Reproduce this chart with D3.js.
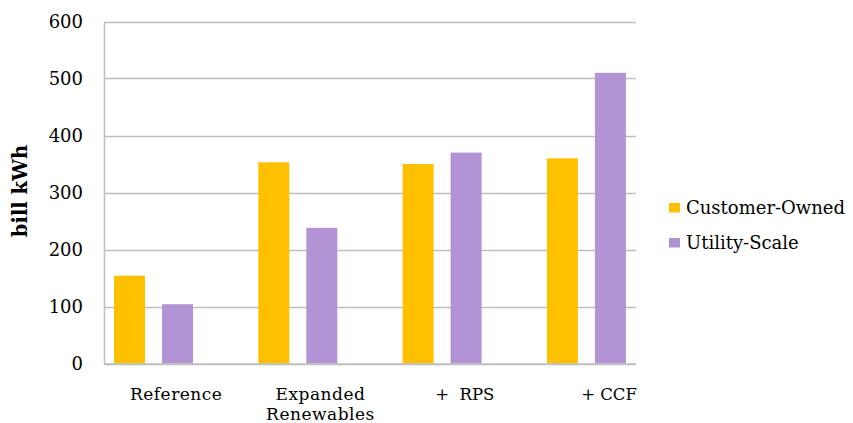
<!DOCTYPE html>
<html>
<head>
<meta charset="utf-8">
<script src="https://cdn.jsdelivr.net/npm/d3@7"></script>
<style>
  html, body { margin: 0; padding: 0; background: #fff; }
  svg { display: block; }
  text { font-family: "DejaVu Serif", serif; fill: #000; }
</style>
</head>
<body>
<svg id="chart" width="853" height="423"></svg>
<script>
// Renewable generation by scenario, billion kWh
const categories = ["Reference", "Expanded Renewables", "+  RPS", "+ CCF"];
const seriesNames = ["Customer-Owned", "Utility-Scale"];
const customerOwned = [154, 353, 350, 360];
const utilityScale = [104, 238, 370, 510];
const yTicks = [0, 100, 200, 300, 400, 500, 600];
const colors = ["#FFC000", "#B294D6"];

const svg = d3.select("#chart");
const plot = { left: 104, right: 636, top: 21.5, bottom: 363.5 };

const y = d3.scaleLinear().domain([0, 600]).range([plot.bottom, plot.top]);

// category slots run wider than the plot frame; each holds three bar positions
const step = 144.3;
const x0 = d3.scaleBand().domain(categories).range([plot.left, plot.left + 4 * step]);
const x1 = d3.scaleBand().domain([...seriesNames, "_spare"])
  .range([10, 137]).paddingInner(0.354).paddingOuter(0);

// gridlines
svg.append("g")
  .selectAll("line")
  .data(yTicks)
  .join("line")
  .attr("x1", plot.left).attr("x2", plot.right)
  .attr("y1", d => Math.round(y(d)) + 0.5).attr("y2", d => Math.round(y(d)) + 0.5)
  .attr("stroke", "#BEBEBE").attr("stroke-width", 1.3);

// y axis
const yAxis = svg.append("g")
  .attr("transform", `translate(${plot.left},0)`)
  .call(d3.axisLeft(y).tickValues(yTicks).tickSize(0).tickPadding(21));
yAxis.select(".domain").attr("stroke", "#BEBEBE").attr("stroke-width", 1.5);
yAxis.selectAll("text").attr("font-size", 18).attr("font-family", "DejaVu Serif, serif");

// bars
const data = categories.map((c, i) => ({ cat: c, vals: [customerOwned[i], utilityScale[i]] }));
const groups = svg.append("g").selectAll("g")
  .data(data).join("g")
  .attr("transform", d => `translate(${x0(d.cat)},0)`);
groups.selectAll("rect")
  .data(d => d.vals.map((v, j) => ({ series: seriesNames[j], v, j })))
  .join("rect")
  .attr("x", d => x1(d.series))
  .attr("width", x1.bandwidth())
  .attr("y", d => y(d.v))
  .attr("height", d => y(0) - y(d.v))
  .attr("fill", d => colors[d.j]);

// x axis line
svg.append("line")
  .attr("x1", plot.left).attr("x2", plot.right)
  .attr("y1", plot.bottom + 0.5).attr("y2", plot.bottom + 0.5)
  .attr("stroke", "#BEBEBE").attr("stroke-width", 1.5);

// category labels
const labelFonts = ["DejaVu Serif", "DejaVu Serif", "Liberation Serif", "Liberation Serif"];
const labelSizes = [17, 17, 16.5, 16.5];
const labelSpacing = [0.5, 0.5, 0, 0];
categories.forEach((c, i) => {
  const cx = x0(c) + x0.bandwidth() / 2;
  const words = c === "Expanded Renewables" ? ["Expanded", "Renewables"] : [c];
  const t = svg.append("text")
    .attr("text-anchor", "middle")
    .attr("font-family", labelFonts[i])
    .attr("font-size", labelSizes[i])
    .attr("letter-spacing", labelSpacing[i])
    .attr("xml:space", "preserve");
  words.forEach((w, k) => {
    t.append("tspan").attr("x", cx).attr("y", 400 + k * 19.5).text(w);
  });
});

// y-axis title
svg.append("text")
  .attr("transform", "translate(27,191) rotate(-90)")
  .attr("text-anchor", "middle")
  .attr("font-family", "Liberation Serif, serif")
  .attr("font-size", 19.5)
  .attr("font-weight", "bold")
  .text("bill kWh");

// legend
const legend = svg.append("g").attr("transform", "translate(669,0)");
seriesNames.forEach((s, i) => {
  const ly = 214 + i * 35;
  legend.append("rect").attr("x", 0).attr("y", ly - 11).attr("width", 11).attr("height", 9.5).attr("fill", colors[i]);
  legend.append("text").attr("x", 17).attr("y", ly).attr("font-size", 18).text(s);
});
</script>
</body>
</html>
